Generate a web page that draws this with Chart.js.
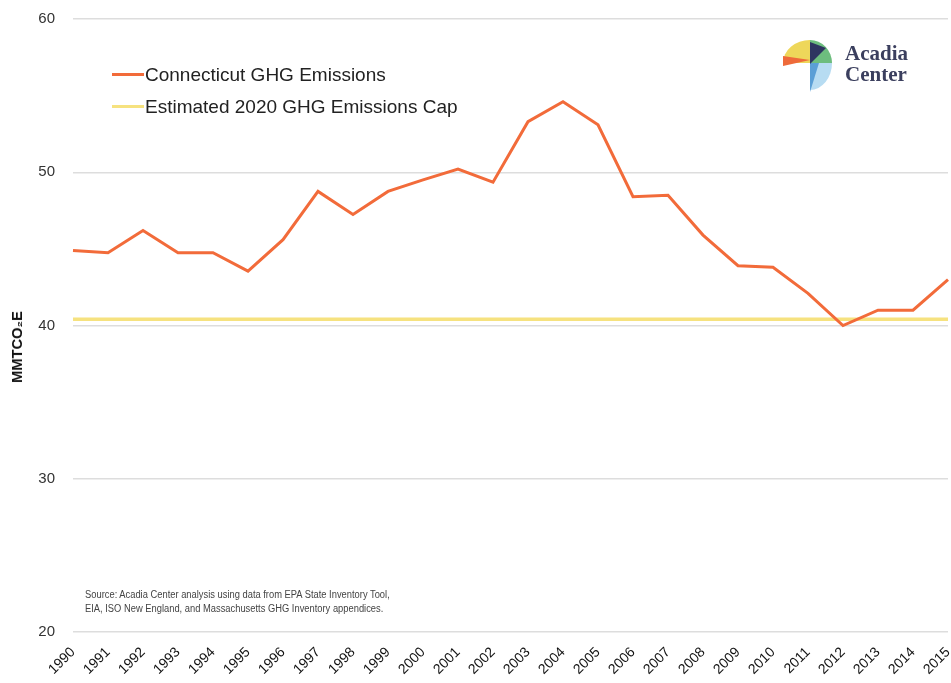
<!DOCTYPE html>
<html>
<head>
<meta charset="utf-8">
<script src="https://cdn.jsdelivr.net/npm/chart.js@4.4.1/dist/chart.umd.min.js"></script>
<style>
  html, body { margin: 0; padding: 0; background: #fff; }
  #wrap { position: relative; width: 951px; height: 683px; overflow: hidden; }
  #chart { position: absolute; left: 0; top: 0; }
  .legend { position: absolute; left: 112px; font: 19px "Liberation Sans", Arial, sans-serif; color: #222; white-space: nowrap; }
  .legend span.swatch { display: inline-block; width: 32px; height: 3px; vertical-align: middle; margin-right: 1px; position: relative; top: -1px; }
  #ytitle { position: absolute; left: 17px; top: 347px; transform: translate(-50%, -50%) rotate(-90deg) scaleX(1.05); font: bold 14px "Liberation Sans", Arial, sans-serif; color: #111; white-space: nowrap; }
  #source { position: absolute; left: 85px; top: 588px; font: 10px "Liberation Sans", Arial, sans-serif; color: #444; line-height: 14px; transform: scaleX(0.935); transform-origin: left top; white-space: nowrap; }
  #logo { position: absolute; left: 783px; top: 40px; }
  #logotext { position: absolute; left: 845px; top: 43px; font: bold 21px "Liberation Serif", "DejaVu Serif", serif; color: #3b3f5e; line-height: 21px; }
</style>
</head>
<body>
<div id="wrap">
  <canvas id="chart" width="951" height="683"></canvas>
  <div class="legend" id="leg0" style="top:64px"></div>
  <div class="legend" id="leg1" style="top:96px"></div>
  <div id="ytitle">MMTCO₂E</div>
  <div id="source">Source: Acadia Center analysis using data from EPA State Inventory Tool,<br>EIA, ISO New England, and Massachusetts GHG Inventory appendices.</div>
  <svg id="logo" width="52" height="54" viewBox="0 0 52 54">
    <path d="M0 23 A27 23 0 0 1 27 0 L27 23 Z" fill="#eed75a"/>
    <path d="M0 16 L27 20 L0 26 Z" fill="#ee6a3a"/>
    <path d="M27 0 A22 23 0 0 1 49 23 L27 23 Z" fill="#6dbd7e"/>
    <path d="M27 23 L49 23 A22 27 0 0 1 27 50 Z" fill="#b7dcf2"/>
    <path d="M27 23 L36 23 L27 52 Z" fill="#5b9fd6"/>
    <path d="M27 2 L43 8 L27 24 Z" fill="#2e3560"/>
  </svg>
  <div id="logotext">Acadia<br>Center</div>
</div>
<script>
const years = ['1990', '1991', '1992', '1993', '1994', '1995', '1996', '1997', '1998', '1999',
  '2000', '2001', '2002', '2003', '2004', '2005', '2006', '2007', '2008', '2009',
  '2010', '2011', '2012', '2013', '2014', '2015'];
const ctEmissions = [44.9, 44.75, 46.2, 44.75, 44.75, 43.55, 45.6, 48.75, 47.25, 48.75,
  49.5, 50.2, 49.35, 53.3, 54.6, 53.1, 48.4, 48.5, 45.9, 43.9,
  43.8, 42.1, 40.0, 41.0, 41.0, 43.0];
const emissionsCap = [40.4, 40.4, 40.4, 40.4, 40.4, 40.4, 40.4, 40.4, 40.4, 40.4,
  40.4, 40.4, 40.4, 40.4, 40.4, 40.4, 40.4, 40.4, 40.4, 40.4,
  40.4, 40.4, 40.4, 40.4, 40.4, 40.4];
const yTicks = [20, 30, 40, 50, 60];

const chart = new Chart(document.getElementById('chart'), {
  type: 'line',
  data: {
    labels: years,
    datasets: [
      { label: 'Connecticut GHG Emissions', data: ctEmissions, borderColor: '#f26b3a', borderWidth: 3, pointRadius: 0, tension: 0 },
      { label: 'Estimated 2020 GHG Emissions Cap', data: emissionsCap, borderColor: '#f6e27f', borderWidth: 3.5, pointRadius: 0, tension: 0 }
    ]
  },
  options: {
    responsive: false,
    animation: false,
    layout: { autoPadding: false, padding: { top: 19, right: 3, left: 0, bottom: 0 } },
    plugins: { legend: { display: false }, tooltip: { enabled: false } },
    scales: {
      x: {
        grid: { display: false },
        border: { display: false },
        ticks: { minRotation: 45, maxRotation: 45, autoSkip: false, padding: 4, color: '#111', font: { family: 'Liberation Sans', size: 14 } },
        afterFit: s => { s.height = 51; s.paddingRight = 0; s.paddingLeft = 0; }
      },
      y: {
        min: 20, max: 60,
        afterBuildTicks: s => { s.ticks = yTicks.map(v => ({ value: v })); },
        grid: { color: '#dddddd', lineWidth: 1.5, drawTicks: false },
        border: { display: false },
        ticks: { padding: 18, color: '#333', font: { family: 'Liberation Sans', size: 15 } },
        afterFit: s => { s.width = 73; s.paddingTop = 0; s.paddingBottom = 0; }
      }
    }
  }
});

chart.data.datasets.forEach((ds, i) => {
  const el = document.getElementById('leg' + i);
  el.innerHTML = '<span class="swatch" style="background:' + ds.borderColor + '"></span>' + ds.label;
});
</script>
</body>
</html>
